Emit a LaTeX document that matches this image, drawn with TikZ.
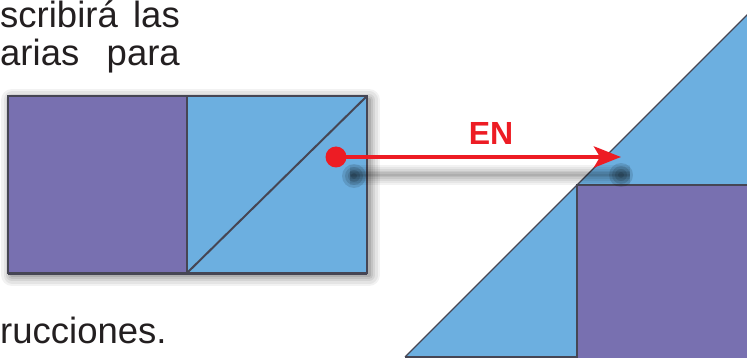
\documentclass[tikz,border=0pt]{standalone}
\usepackage{fontspec}
\setmainfont{Liberation Sans}
\usetikzlibrary{arrows.meta}
\definecolor{purp}{RGB}{120,112,176}
\definecolor{sky}{RGB}{108,175,224}
\definecolor{edgec}{RGB}{70,70,84}
\definecolor{ink}{RGB}{35,31,32}
\definecolor{redx}{RGB}{237,28,36}
\tikzset{
  txt/.style={inner sep=0pt, text=ink, font=\fontsize{36.5}{40}\selectfont},
  border/.style={draw=edgec, line width=2pt},
}
\begin{document}
\begin{tikzpicture}[x=1pt,y=-1pt]
\useasboundingbox (0,0) rectangle (747,358);
% text fragments
\node[txt, anchor=base west] (w1) at (0,28) {scribirá};
\node[txt, anchor=base east] (w2) at (180,28) {las};
\node[txt, anchor=base west] (w3) at (0,66) {arias};
\node[txt, anchor=base east] (w4) at (180,66) {para};
\node[txt, anchor=base west] (w5) at (0,343) {rucciones.};
% shadow of left rectangle
\foreach \w/\o in {22/0.05,17/0.06,12/0.07,8/0.08,4/0.1}
  \draw[black, line width=\w pt, opacity=\o, line join=round] (12,100) rectangle (369,275);
% left rectangle
\fill[purp] (8,96) rectangle (187,273);
\fill[sky] (187,96) rectangle (367,273);
\draw[edgec, line width=2pt] (187,273) -- (367,96);
\draw[border] (8,96) rectangle (367,273);
\draw[edgec, line width=3pt] (8,273.5) -- (367,273.5);
\draw[border] (187,96) -- (187,273);
% right figure
\fill[sky] (405,357) -- (752,10) -- (752,362) -- (405,362) -- cycle;
\draw[edgec, line width=1.3pt] (405,357) -- (752,10);
\draw[edgec, line width=2pt] (405,357) -- (752,357);
\fill[purp] (577,185) rectangle (752,362);
\draw[border] (752,185) -- (577,185) -- (577,362);
% arrow shadow
\foreach \w/\o in {20/0.05,16/0.05,12/0.06,8/0.07,5/0.07,2/0.07}
  \draw[black, line width=\w pt, opacity=\o] (350,175) -- (630,175);
\foreach \r in {12,9,6,3}
  {\fill[black, opacity=0.12] (354,176) circle (\r pt);
   \fill[black, opacity=0.12] (621,175) circle (\r pt);}
% arrow
\coordinate (start) at (336,157);
\coordinate (tip) at (621,157);
\draw[redx, line width=4.5pt, -{Stealth[length=27pt,width=21pt,inset=6pt]}] (start) -- (tip);
\fill[redx] (start) circle (10.5pt);
\node[inner sep=0pt, text=redx, font=\bfseries\fontsize{32}{32}\selectfont, anchor=base] (en) at (491,145) {EN};
\end{tikzpicture}
\end{document}
